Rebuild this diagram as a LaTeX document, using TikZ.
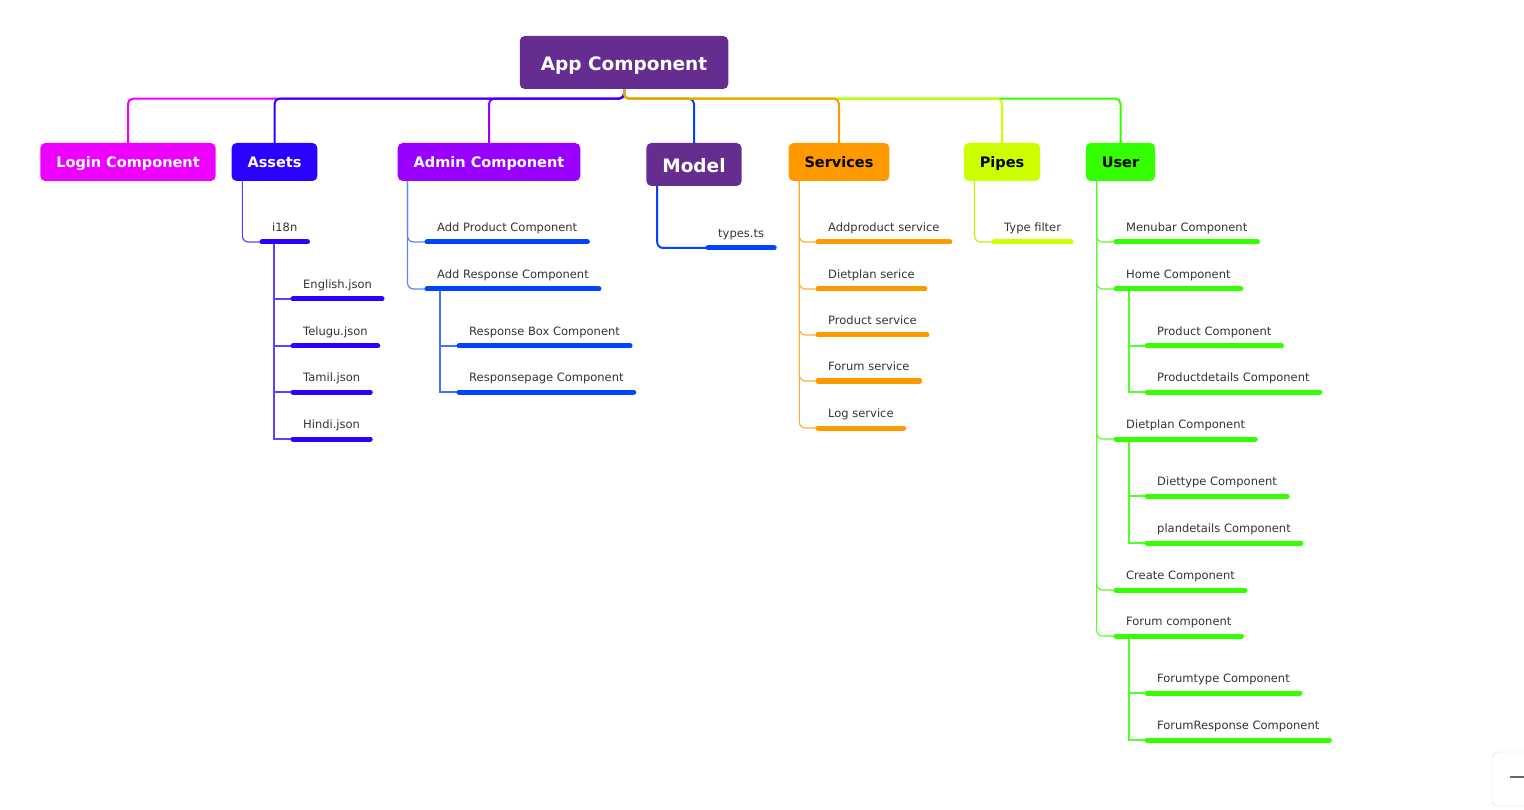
\documentclass[tikz,border=0pt]{standalone}
\usepackage{fontspec}
\setmainfont{DejaVu Sans}
\usetikzlibrary{positioning}

\definecolor{appPurple}{HTML}{662D91}
\definecolor{loginPink}{HTML}{EE00FF}
\definecolor{assetsBlue}{HTML}{2B00FF}
\definecolor{adminViolet}{HTML}{9900FF}
\definecolor{leafBlue}{HTML}{0044FF}
\definecolor{servOrange}{HTML}{FF9900}
\definecolor{pipesLime}{HTML}{CCFF00}
\definecolor{userGreen}{HTML}{33FF00}
\definecolor{leafText}{HTML}{333333}

\begin{document}
\begin{tikzpicture}[
  x=1pt, y=-1pt,
  mainBox/.style={rounded corners=5pt, inner xsep=16pt, minimum height=38pt,
                  text height=12pt, text depth=0.5pt,
                  font=\fontsize{14.5}{16}\selectfont\bfseries},
  bigBox/.style={mainBox, text height=15.5pt, text depth=0pt,
                 font=\fontsize{18.5}{20}\selectfont\bfseries},
  leaf/.style={anchor=south west, inner xsep=10pt, inner ysep=0pt,
               text height=9pt, text depth=10pt,
               font=\fontsize{11.5}{13}\selectfont, text=leafText},
  underline/.style={line width=5pt, line cap=round},
  twig/.style={line width=1.2pt},
  bus/.style={line width=2pt, rounded corners=5pt}
]
  \useasboundingbox (0,0) rectangle (1524,810);

  % Root and first level
  \node[bigBox, fill=appPurple, text=white, inner xsep=21pt, minimum height=53pt]
    (app) at (624,62.5) {App Component};
  \node[mainBox, fill=loginPink, text=white] (login) at (128,162) {Login Component};
  \node[mainBox, fill=assetsBlue, text=white] (assets) at (274.5,162) {Assets};
  \node[mainBox, fill=adminViolet, text=white] (admin) at (489,162) {Admin Component};
  \node[bigBox, fill=appPurple, text=white, minimum height=43pt]
    (model) at (694,164.5) {Model};
  \node[mainBox, fill=servOrange, text=black] (services) at (839,162) {Services};
  \node[mainBox, fill=pipesLime, text=black] (pipes) at (1002,162) {Pipes};
  \node[mainBox, fill=userGreen, text=black] (user) at (1120.5,162) {User};

  % Bus from the root (drawn in this order so the overlaps match)
  \draw[bus, loginPink] (app.south) -- ++(0,9.5) -| (login.north);
  \draw[bus, adminViolet] (app.south) -- ++(0,9.5) -| (admin.north);
  \draw[bus, assetsBlue] (app.south) -- ++(0,9.5) -| (assets.north);
  \draw[bus, leafBlue] (app.south) -- ++(0,9.5) -| (model.north);
  \draw[bus, userGreen] (app.south) -- ++(0,9.5) -| (user.north);
  \draw[bus, pipesLime] (app.south) -- ++(0,9.5) -| (pipes.north);
  \draw[bus, servOrange] (app.south) -- ++(0,9.5) -| (services.north);

  % Assets
  \node[leaf] (i18n) at (262,242) {i18n};
  \node[leaf] (eng) at (293,299) {English.json};
  \node[leaf] (tel) at (293,346) {Telugu.json};
  \node[leaf] (tam) at (293,392) {Tamil.json};
  \node[leaf] (hin) at (293,439) {Hindi.json};
  \draw[twig, assetsBlue!75, rounded corners=6pt]
    ([xshift=11pt]assets.south west) |- (i18n.south west);
  \foreach \n in {eng,tel,tam,hin}
    \draw[twig, assetsBlue!75] ([xshift=12pt]i18n.south west) |- (\n.south west);
  \foreach \n in {i18n,eng,tel,tam,hin}
    \draw[underline, assetsBlue] (\n.south west) -- (\n.south east);

  % Admin
  \node[leaf] (addprod) at (427,242) {Add Product Component};
  \node[leaf] (addresp) at (427,289) {Add Response Component};
  \node[leaf] (respbox) at (459,346) {Response Box Component};
  \node[leaf] (resppage) at (459,392) {Responsepage Component};
  \foreach \n in {addprod,addresp}
    \draw[twig, leafBlue!65, rounded corners=6pt]
      ([xshift=10pt]admin.south west) |- (\n.south west);
  \foreach \n in {respbox,resppage}
    \draw[twig, leafBlue!75] ([xshift=13pt]addresp.south west) |- (\n.south west);
  \foreach \n in {addprod,addresp,respbox,resppage}
    \draw[underline, leafBlue] (\n.south west) -- (\n.south east);

  % Model
  \node[leaf] (types) at (708,248) {types.ts};
  \draw[line width=2pt, leafBlue, rounded corners=6pt]
    ([xshift=11pt]model.south west) |- (types.south west);
  \draw[underline, leafBlue] (types.south west) -- (types.south east);

  % Services
  \node[leaf] (addprodsrv) at (818,242) {Addproduct service};
  \node[leaf] (dietsrv) at (818,289) {Dietplan serice};
  \node[leaf] (prodsrv) at (818,335) {Product service};
  \node[leaf] (forumsrv) at (818,381) {Forum service};
  \node[leaf] (logsrv) at (818,428) {Log service};
  \foreach \n in {addprodsrv,dietsrv,prodsrv,forumsrv,logsrv} {
    \draw[twig, servOrange!80, rounded corners=6pt]
      ([xshift=11pt]services.south west) |- (\n.south west);
    \draw[underline, servOrange] (\n.south west) -- (\n.south east);
  }

  % Pipes
  \node[leaf] (typefilter) at (994,242) {Type filter};
  \draw[twig, pipesLime!80!black!30!pipesLime, rounded corners=6pt]
    ([xshift=11pt]pipes.south west) |- (typefilter.south west);
  \draw[underline, pipesLime] (typefilter.south west) -- (typefilter.south east);

  % User
  \node[leaf] (menubar) at (1116,242) {Menubar Component};
  \node[leaf] (home) at (1116,289) {Home Component};
  \node[leaf] (product) at (1147,346) {Product Component};
  \node[leaf] (proddetails) at (1147,392) {Productdetails Component};
  \node[leaf] (dietplan) at (1116,439) {Dietplan Component};
  \node[leaf] (diettype) at (1147,496) {Diettype Component};
  \node[leaf] (plandetails) at (1147,543) {plandetails Component};
  \node[leaf] (create) at (1116,590) {Create Component};
  \node[leaf] (forum) at (1116,636) {Forum component};
  \node[leaf] (forumtype) at (1147,693) {Forumtype Component};
  \node[leaf] (forumresp) at (1147,740) {ForumResponse Component};
  \foreach \n in {menubar,home,dietplan,create,forum}
    \draw[twig, userGreen!85, rounded corners=6pt]
      ([xshift=11pt]user.south west) |- (\n.south west);
  \foreach \n in {product,proddetails}
    \draw[twig, userGreen!85] ([xshift=13pt]home.south west) |- (\n.south west);
  \foreach \n in {diettype,plandetails}
    \draw[twig, userGreen!85] ([xshift=13pt]dietplan.south west) |- (\n.south west);
  \foreach \n in {forumtype,forumresp}
    \draw[twig, userGreen!85] ([xshift=13pt]forum.south west) |- (\n.south west);
  \foreach \n in {menubar,home,product,proddetails,dietplan,diettype,
                  plandetails,create,forum,forumtype,forumresp}
    \draw[underline, userGreen] (\n.south west) -- (\n.south east);

  % zoom button, cut by the page edge
  \draw[black!15, fill=white, rounded corners=6pt] (1492,752) rectangle (1570,806);
  \draw[line width=2.5pt, black!60] (1510,777) -- (1530,777);
\end{tikzpicture}
\end{document}
